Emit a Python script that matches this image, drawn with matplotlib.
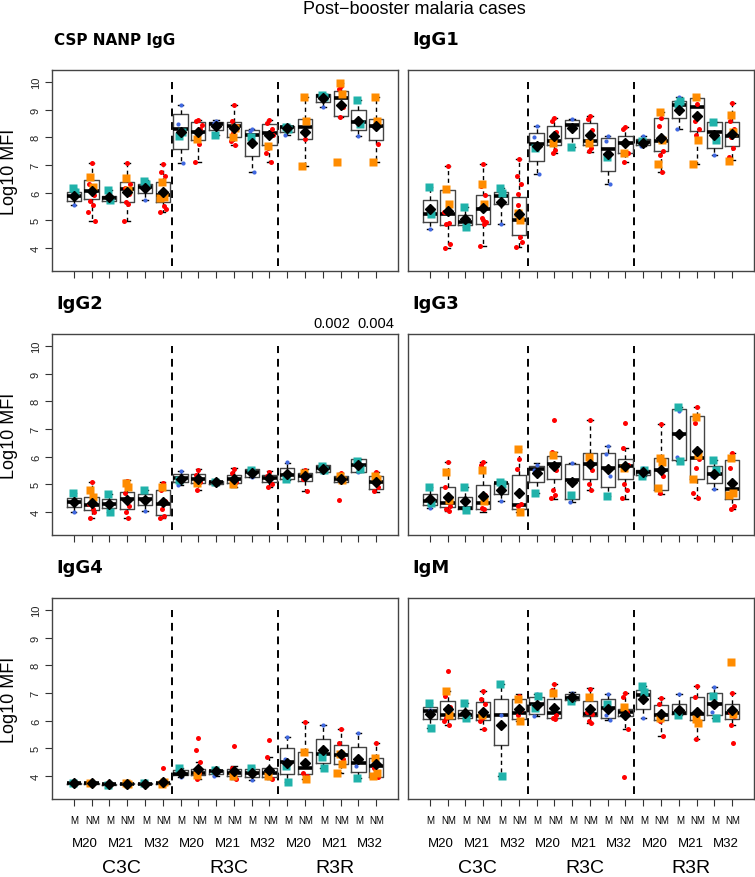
import matplotlib
matplotlib.use("Agg")
import matplotlib.pyplot as plt

plt.rcParams['font.family'] = ['Liberation Sans', 'DejaVu Sans']

panel_titles = ["CSP NANP IgG", "IgG1", "IgG2", "IgG3", "IgG4", "IgM"]
status_labels = ["M", "NM"] * 9
visit_labels = ["M20", "M21", "M32"] * 3
group_labels = ["C3C", "R3C", "R3R"]
pvalue_labels = ["0.002", "0.004"]
pvalue_pos = [15.5, 18.0]

# ---------- CSP NANP IgG ----------
csp_lo = [5.55, 4.98, 5.72, 4.96, 5.75, 5.30, 7.07, 7.12, 8.07, 7.72, 6.75, 7.12, 8.10, 6.95, 9.10, 8.72, 8.03, 7.12]
csp_q1 = [5.71, 5.76, 5.70, 5.68, 5.98, 5.65, 7.57, 7.90, 8.25, 8.00, 7.33, 7.73, 8.20, 7.94, 9.26, 8.76, 8.26, 7.91]
csp_med = [5.88, 6.06, 5.79, 6.12, 6.20, 5.91, 8.30, 8.20, 8.48, 8.42, 8.08, 8.14, 8.36, 8.38, 9.48, 9.43, 8.54, 8.42]
csp_q3 = [6.03, 6.44, 5.88, 6.39, 6.30, 6.40, 8.84, 8.54, 8.56, 8.54, 8.26, 8.47, 8.42, 8.66, 9.57, 9.66, 8.99, 8.66]
csp_hi = [6.15, 7.07, 6.08, 7.07, 6.45, 7.05, 9.17, 8.64, 8.62, 9.17, 8.30, 8.64, 8.45, 9.46, 9.58, 9.96, 9.36, 9.47]
csp_mean = [5.88, 6.05, 5.85, 6.04, 6.15, 6.03, 8.20, 8.18, 8.42, 8.32, 7.81, 8.08, 8.32, 8.20, 9.41, 9.17, 8.60, 8.40]
csp_dots = [[5.55, 5.92], [7.07, 6.30, 5.90, 5.70, 5.55, 5.30, 4.98, 6.10, 6.20], [5.80],
            [7.07, 6.15, 5.95, 5.65, 5.60, 4.96, 6.30], [5.75, 6.20], [7.05, 6.75, 6.60, 5.95, 5.50, 5.30, 5.40, 6.00],
            [9.17, 8.48, 7.07], [8.64, 8.60, 8.30, 8.00, 7.75, 7.12, 8.45], [8.60, 8.50],
            [9.17, 8.60, 8.40, 8.15, 7.72, 7.85], [8.30, 8.22, 6.75], [8.64, 8.50, 8.30, 7.60, 7.12, 7.45, 8.10],
            [8.42, 8.10], [7.95, 8.20], [9.10, 9.55], [9.85, 9.75, 9.10, 8.72], [8.03], [9.45, 8.40, 7.75]]
csp_sq = [[6.15, 6.02], [6.55, 6.20], [6.08, 5.72], [6.52, 6.10], [6.42, 6.30], [6.37, 5.85, 5.80],
          [8.05, 8.20], [7.92], [8.07], [8.00, 8.35], [8.00], [7.68],
          [8.38, 8.30], [9.45, 8.60, 6.95], [9.52, 9.45], [9.95, 9.55, 7.10], [9.36, 8.48], [9.45, 8.60, 7.10]]

# ---------- IgG1 ----------
g1_lo = [4.68, 4.01, 4.76, 4.07, 4.86, 4.03, 6.67, 7.45, 7.66, 7.48, 6.31, 7.09, 7.70, 6.76, 8.30, 7.03, 7.37, 7.17]
g1_q1 = [4.95, 4.84, 4.84, 4.88, 5.58, 4.48, 7.13, 7.73, 7.98, 7.73, 6.79, 7.43, 7.73, 7.49, 8.68, 8.24, 7.60, 7.69]
g1_med = [5.24, 5.22, 4.94, 5.42, 5.88, 5.01, 7.77, 7.88, 8.45, 7.85, 7.57, 7.81, 7.84, 7.88, 9.17, 9.08, 8.20, 8.06]
g1_q3 = [5.73, 6.11, 5.21, 5.91, 6.04, 5.86, 8.14, 8.42, 8.64, 8.52, 7.96, 8.06, 7.93, 8.70, 9.32, 9.43, 8.54, 8.54]
g1_hi = [6.22, 6.97, 5.48, 7.03, 6.17, 7.21, 8.39, 8.70, 8.66, 8.76, 8.06, 8.36, 8.06, 8.90, 9.45, 9.46, 8.54, 9.23]
g1_mean = [5.40, 5.33, 5.04, 5.46, 5.65, 5.22, 7.67, 8.03, 8.32, 8.08, 7.38, 7.81, 7.81, 7.96, 9.00, 8.78, 8.08, 8.12]
g1_dots = [[4.68], [6.97, 4.01, 4.15, 4.85, 4.90, 5.30], [5.10], [7.03, 6.25, 5.90, 5.10, 4.85, 4.07, 4.95, 5.00],
           [4.86], [7.21, 6.60, 6.30, 5.95, 4.40, 4.03, 4.20, 5.55], [8.39, 8.00, 6.67], [8.70, 8.60, 8.20, 7.45, 7.55],
           [8.66], [8.76, 8.65, 8.25, 7.50, 7.60], [8.06, 7.85, 6.31], [8.36, 8.30, 7.45, 7.09], [8.06, 7.70],
           [8.70, 8.40, 7.50, 7.35, 6.76], [9.45, 8.30], [9.20, 8.60, 8.30, 8.10], [7.37], [9.23, 8.60, 8.30, 8.00, 7.60, 7.30]]
g1_sq = [[6.22, 5.24], [6.12, 5.60], [5.48, 4.76], [6.30, 5.60], [6.17, 6.00], [5.25, 5.00], [7.63], [7.80], [7.66],
         [7.80], [7.28], [7.43], [7.85], [8.90, 7.90, 7.03], [9.20, 9.30], [9.46, 7.90, 7.03], [8.54, 7.90], [8.80, 8.20, 7.15]]

# ---------- IgG2 ----------
g2_lo = [4.00, 3.78, 4.00, 3.78, 4.05, 3.78, 4.97, 4.78, 4.97, 4.92, 5.27, 4.92, 5.16, 4.75, 5.43, 5.16, 5.43, 4.72]
g2_q1 = [4.19, 4.07, 4.13, 4.10, 4.27, 3.90, 5.08, 5.04, 5.01, 5.06, 5.27, 5.10, 5.18, 5.12, 5.45, 5.10, 5.45, 4.82]
g2_med = [4.37, 4.25, 4.28, 4.48, 4.48, 4.30, 5.22, 5.20, 5.08, 5.20, 5.43, 5.23, 5.34, 5.30, 5.58, 5.20, 5.71, 5.08]
g2_q3 = [4.51, 4.55, 4.46, 4.72, 4.65, 4.78, 5.36, 5.36, 5.13, 5.34, 5.54, 5.34, 5.60, 5.42, 5.69, 5.30, 5.90, 5.30]
g2_hi = [4.70, 5.10, 4.65, 5.14, 4.80, 5.08, 5.48, 5.54, 5.15, 5.60, 5.55, 5.47, 5.78, 5.54, 5.70, 5.42, 5.92, 5.45]
g2_mean = [4.37, 4.34, 4.28, 4.43, 4.43, 4.36, 5.20, 5.20, 5.08, 5.20, 5.41, 5.23, 5.39, 5.30, 5.57, 5.18, 5.70, 5.08]
g2_dots = [[4.00, 4.35], [5.10, 4.30, 4.00, 3.80, 4.10], [4.35], [5.12, 4.70, 4.20, 4.00, 3.78], [4.05],
           [5.05, 4.80, 4.40, 4.10, 3.85, 3.80], [5.48, 4.97], [5.50, 5.35, 5.10, 4.80], [5.00], [5.55, 5.40, 5.10],
           [5.28], [5.45, 5.30, 5.00, 4.90], [5.80], [5.50, 5.20, 4.75], [5.45], [5.40, 4.45], [5.43], [5.45, 4.75, 4.90]]
g2_sq = [[4.70], [4.80, 4.55], [4.65, 4.00], [5.05, 4.90], [4.80], [4.92], [5.15], [5.05], [5.10], [5.00], [5.50], [],
         [5.20], [5.40], [5.65, 5.50], [5.30, 5.15], [5.85, 5.55], [5.30, 5.20]]

# ---------- IgG3 ----------
g3_lo = [4.16, 4.04, 4.08, 4.01, 4.40, 4.00, 4.67, 4.48, 4.36, 4.78, 4.58, 4.48, 5.30, 4.64, 5.84, 4.50, 4.84, 4.10]
g3_q1 = [4.27, 4.19, 4.12, 4.12, 4.64, 4.10, 5.08, 5.20, 4.48, 5.20, 4.92, 5.18, 5.33, 4.80, 5.88, 5.20, 5.06, 4.46]
g3_med = [4.39, 4.34, 4.16, 4.34, 5.04, 4.24, 5.54, 5.72, 5.16, 5.72, 5.60, 5.66, 5.45, 5.50, 6.81, 5.94, 5.36, 4.82]
g3_q3 = [4.65, 4.92, 4.54, 4.98, 5.06, 5.35, 5.66, 6.04, 5.72, 6.14, 6.14, 5.90, 5.52, 5.95, 7.71, 7.47, 5.66, 5.88]
g3_hi = [4.92, 5.82, 4.92, 5.82, 5.10, 6.27, 5.76, 6.18, 5.76, 7.33, 6.39, 6.30, 5.60, 7.17, 7.81, 7.81, 5.88, 6.12]
g3_mean = [4.48, 4.55, 4.39, 4.58, 4.81, 4.67, 5.40, 5.66, 5.08, 5.72, 5.57, 5.66, 5.45, 5.50, 6.81, 6.22, 5.36, 5.06]
g3_dots = [[4.16], [5.82, 4.90, 4.20, 4.10, 4.05], [4.30], [5.82, 5.70, 4.60, 4.15, 4.10], [4.40], [5.90, 5.55, 4.30, 4.20],
           [5.70, 5.50], [7.33, 6.15, 5.50, 4.80, 4.60, 4.50], [5.76, 4.36], [7.33, 5.90, 5.50, 5.00, 4.80], [6.39, 6.10, 5.30],
           [7.23, 6.30, 5.70, 5.00, 4.80, 4.50], [5.60], [7.17, 5.50, 5.30, 4.70], [7.65, 6.00],
           [7.81, 7.20, 5.90, 5.60, 4.50, 4.70], [4.84, 5.30], [6.12, 5.60, 4.20, 4.10]]
g3_sq = [[4.92, 4.34], [5.45, 4.45], [4.92, 4.08], [5.50, 4.40], [5.10, 5.00], [6.27, 4.00], [4.67], [6.05], [4.60], [6.00],
         [4.58], [5.60], [5.30, 5.50], [5.95, 5.80, 4.88], [7.81, 5.84], [7.42, 6.05, 5.20], [5.88, 5.50], [5.95, 4.70, 4.60]]

# ---------- IgG4 ----------
g4_lo = [3.71, 3.71, 3.68, 3.70, 3.71, 3.71, 3.97, 3.90, 4.00, 3.90, 3.86, 3.88, 3.80, 3.88, 4.30, 4.10, 3.93, 3.97]
g4_q1 = [3.72, 3.72, 3.69, 3.71, 3.72, 3.72, 4.02, 4.02, 4.08, 4.00, 3.98, 3.98, 4.08, 4.06, 4.48, 4.45, 4.14, 3.98]
g4_med = [3.73, 3.73, 3.70, 3.72, 3.72, 3.73, 4.08, 4.12, 4.17, 4.10, 4.12, 4.10, 4.51, 4.30, 4.78, 4.76, 4.48, 4.36]
g4_q3 = [3.74, 3.74, 3.71, 3.73, 3.73, 3.75, 4.22, 4.24, 4.23, 4.24, 4.24, 4.28, 5.00, 4.86, 5.35, 5.13, 5.06, 4.66]
g4_hi = [3.76, 3.76, 3.72, 3.76, 3.74, 3.79, 4.30, 4.51, 4.26, 4.35, 4.32, 4.69, 5.41, 5.95, 5.84, 5.71, 5.54, 5.20]
g4_mean = [3.73, 3.74, 3.70, 3.72, 3.72, 3.78, 4.12, 4.27, 4.17, 4.18, 4.11, 4.20, 4.48, 4.48, 4.93, 4.78, 4.60, 4.42]
g4_dots = [[3.72], [3.72], [3.70], [3.70], [3.72], [4.30, 3.72], [3.98], [5.37, 4.95, 4.50, 3.90, 4.10], [4.25, 4.00],
           [5.07, 4.30, 3.90], [3.86], [5.30, 4.67, 3.90], [5.40, 4.60], [5.95, 4.10, 4.00], [5.83], [5.70, 5.20, 4.60],
           [5.54, 4.35], [5.20, 4.30, 3.98]]
g4_sq = [[3.75], [3.75], [3.68], [3.75, 3.72], [3.73], [3.72, 3.78], [4.28], [4.05], [4.20], [4.00], [4.30], [4.00],
         [4.35, 3.80], [4.87, 3.88], [4.68, 4.30], [4.80, 4.45, 4.10], [3.93], [4.66, 4.10, 4.00]]

# ---------- IgM ----------
gm_lo = [5.75, 5.83, 6.10, 5.71, 4.00, 6.00, 6.17, 6.05, 6.72, 5.90, 6.01, 5.71, 6.08, 5.45, 6.20, 5.35, 6.11, 5.84]
gm_q1 = [6.05, 6.05, 6.11, 6.02, 5.11, 6.07, 6.25, 6.11, 6.73, 6.17, 6.11, 6.17, 6.43, 6.01, 6.23, 6.01, 6.20, 6.07]
gm_med = [6.35, 6.20, 6.20, 6.17, 6.20, 6.27, 6.59, 6.29, 6.83, 6.23, 6.47, 6.33, 6.93, 6.20, 6.27, 6.23, 6.59, 6.27]
gm_q3 = [6.49, 6.71, 6.39, 6.69, 6.77, 6.80, 6.87, 6.80, 6.95, 6.71, 6.77, 6.43, 7.11, 6.57, 6.61, 6.86, 7.01, 6.61]
gm_hi = [6.63, 7.07, 6.63, 7.07, 7.34, 6.95, 6.95, 7.34, 7.05, 7.17, 6.95, 7.00, 7.25, 6.83, 6.95, 7.25, 7.23, 7.00]
gm_mean = [6.25, 6.41, 6.28, 6.31, 5.84, 6.43, 6.55, 6.47, 6.86, 6.43, 6.43, 6.20, 6.80, 6.25, 6.39, 6.33, 6.61, 6.39]
gm_dots = [[6.40], [7.78, 6.90, 6.50, 6.10, 5.85, 6.00], [6.25], [7.07, 6.80, 6.60, 6.10, 5.71, 6.00], [6.20],
           [6.90, 6.75, 6.40, 6.20], [6.95, 6.17], [7.34, 7.10, 6.20, 6.10, 6.05], [7.00], [7.15, 6.90, 6.25, 6.00, 5.90, 6.30],
           [6.95, 6.20, 6.01], [7.00, 6.85, 5.71, 3.95, 6.30], [6.08], [6.83, 6.60, 5.45, 6.00], [6.95], [7.25, 6.85, 6.30, 5.35],
           [7.23, 6.30], [7.00, 6.30, 6.15, 5.84, 5.20]]
gm_sq = [[6.63, 5.75], [7.07, 6.20], [6.63, 6.10], [6.20], [7.34, 4.00], [6.80, 6.00], [6.45, 6.90], [7.00], [6.72], [6.85],
         [6.60], [6.50], [7.25, 7.05], [6.10], [6.20], [6.05, 5.90], [6.90, 6.10], [8.13, 6.25]]

panels = [
    (csp_lo, csp_q1, csp_med, csp_q3, csp_hi, csp_mean, csp_dots, csp_sq),
    (g1_lo, g1_q1, g1_med, g1_q3, g1_hi, g1_mean, g1_dots, g1_sq),
    (g2_lo, g2_q1, g2_med, g2_q3, g2_hi, g2_mean, g2_dots, g2_sq),
    (g3_lo, g3_q1, g3_med, g3_q3, g3_hi, g3_mean, g3_dots, g3_sq),
    (g4_lo, g4_q1, g4_med, g4_q3, g4_hi, g4_mean, g4_dots, g4_sq),
    (gm_lo, gm_q1, gm_med, gm_q3, gm_hi, gm_mean, gm_dots, gm_sq),
]

C_BLUE = '#4169E1'
C_TEAL = '#20B2AA'
C_ORANGE = '#FF8C00'
C_RED = '#FF0000'

jit = [0.0, -0.12, 0.12, -0.06, 0.06, -0.18, 0.18, -0.03, 0.09, -0.15, 0.15]

W, H = 755, 878
fig = plt.figure(figsize=(W / 100, H / 100), dpi=100)

col_left = [52, 408]
row_top = [71, 335, 599]
ax_w, ax_h = 346, 201

fig.text(414 / W, 1 - 9 / H, "Post\u2212booster malaria cases", ha='center', va='center', fontsize=13)

n = 18
pos = list(range(1, n + 1))
for k, data in enumerate(panels):
    lo, q1, med, q3, hi, mean, dots, sqs = data
    r, c = divmod(k, 2)
    ax = fig.add_axes([col_left[c] / W, 1 - (row_top[r] + ax_h) / H, ax_w / W, ax_h / H])
    stats = [dict(whislo=lo[i], q1=q1[i], med=med[i], q3=q3[i], whishi=hi[i], fliers=[]) for i in range(n)]
    ax.bxp(stats, positions=pos, widths=0.8, capwidths=0.3, showfliers=False,
           boxprops=dict(color='#444444', lw=1.0),
           whiskerprops=dict(color='black', lw=1.0, linestyle=(0, (3, 2.5))),
           capprops=dict(color='black', lw=1.0),
           medianprops=dict(color='black', lw=2.6, solid_capstyle='butt'),
           manage_ticks=False, zorder=2)
    for i in range(n):
        is_m = (i % 2 == 0)
        dcol = C_BLUE if is_m else C_RED
        scol = C_TEAL if is_m else C_ORANGE
        dsz = 3.0 if is_m else 3.6
        for j, v in enumerate(dots[i]):
            ax.plot(pos[i] + jit[j % len(jit)], v, 'o', ms=dsz, color=dcol, mec='none', zorder=3)
        for j, v in enumerate(sqs[i]):
            ax.plot(pos[i] + jit[(j + 3) % len(jit)], v, 's', ms=5.5, color=scol, mec='none', zorder=3)
    ax.plot(pos, mean, 'D', ms=5, color='black', mec='black', lw=0, zorder=4)
    for xv in (6.5, 12.5):
        ax.plot([xv, xv], [3.35, 10.0], color='black', lw=1.4, linestyle=(0, (4, 3)), zorder=1)
    ax.set_xlim(-0.22, 19.22)
    ax.set_ylim(3.17, 10.43)
    ax.set_xticks(pos)
    ax.tick_params(axis='x', direction='out', length=5, width=0.8, color='#333333', labelbottom=False)
    if c == 0:
        ax.set_yticks(range(4, 11))
        ax.set_yticklabels([str(v) for v in range(4, 11)], rotation=90, va='center', fontsize=8, color='#222222')
        ax.tick_params(axis='y', direction='out', length=5, width=0.8, color='#333333', pad=3)
        fig.text(9 / W, 1 - (row_top[r] + ax_h / 2) / H, "Log10 MFI", rotation=90, ha='center', va='center', fontsize=13)
    else:
        ax.set_yticks([])
    for sp in ax.spines.values():
        sp.set_color('#444444')
        sp.set_linewidth(1.0)
    title_fs = 11 if k == 0 else 13
    fig.text(col_left[c] / W + (0.002 if k == 0 else 0.006), 1 - (row_top[r] - 31) / H, panel_titles[k],
             ha='left', va='center', fontsize=title_fs, fontweight='bold', family='DejaVu Sans')
    if k == 2:
        for lab, xp in zip(pvalue_labels, pvalue_pos):
            ax.text(xp, 1.055, lab, transform=ax.get_xaxis_transform(), ha='center', va='center', fontsize=10.5)
    if r == 2:
        tr = ax.get_xaxis_transform()
        for i in range(n):
            ax.text(pos[i] + 0.05, -0.105, status_labels[i], transform=tr, ha='center', va='center', fontsize=7, clip_on=False)
        for g in range(9):
            ax.text(2 * g + 1.65, -0.22, visit_labels[g], transform=tr, ha='center', va='center', fontsize=9.5, clip_on=False)
        for g in range(3):
            ax.text(6 * g + 3.7, -0.34, group_labels[g], transform=tr, ha='center', va='center', fontsize=14, clip_on=False)

fig.savefig("out.png", dpi=100)
